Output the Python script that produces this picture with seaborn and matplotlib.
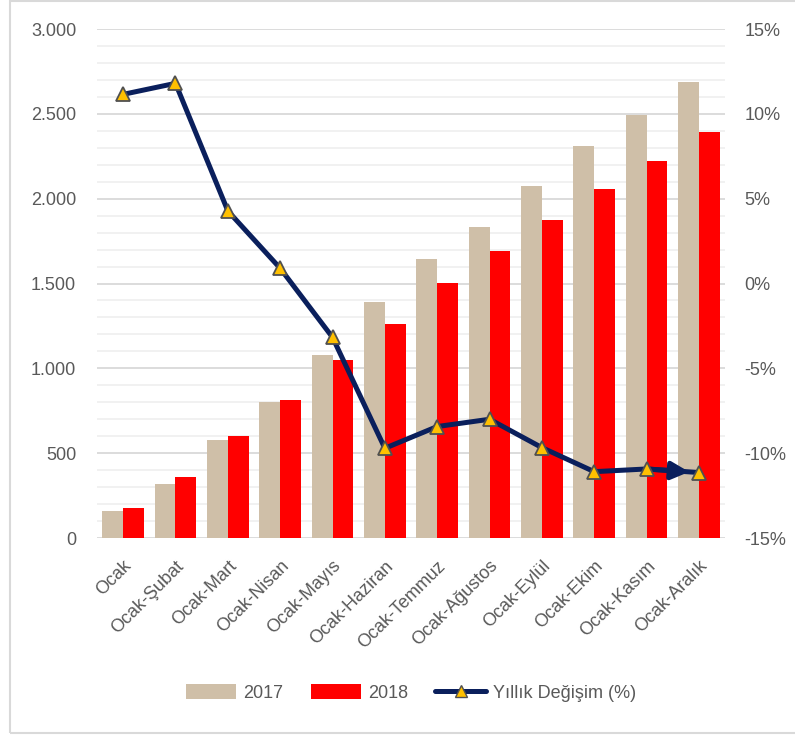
import matplotlib
matplotlib.use('Agg')
import matplotlib.pyplot as plt
from matplotlib.patches import Patch, Rectangle
from matplotlib.lines import Line2D
from matplotlib.ticker import MultipleLocator, FuncFormatter
import seaborn as sns
import pandas as pd
import numpy as np

### Data ###
months = ["Ocak", "Ocak-Şubat", "Ocak-Mart", "Ocak-Nisan", "Ocak-Mayıs", "Ocak-Haziran",
          "Ocak-Temmuz", "Ocak-Ağustos", "Ocak-Eylül", "Ocak-Ekim", "Ocak-Kasım", "Ocak-Aralık"]
values_2017 = [159, 320, 577, 803, 1078, 1391, 1642, 1833, 2074, 2312, 2495, 2689]
values_2018 = [177, 358, 601, 813, 1047, 1261, 1503, 1691, 1876, 2057, 2222, 2393]
yoy_change = [11.15, 11.8, 4.28, 0.9, -3.17, -9.71, -8.43, -8.0, -9.67, -11.09, -10.93, -11.14]

TAN = "#CFBFA8"
RED = "#FF0000"
NAVY = "#0A1F5C"
GOLD = "#FFC000"
TEXT = "#595959"

sns.set_style("white")
plt.rcParams['font.family'] = ['Liberation Sans', 'DejaVu Sans']


def build_chart(outfile):
    df = pd.DataFrame({
        "month": months * 2,
        "year": ["2017"] * len(months) + ["2018"] * len(months),
        "value": values_2017 + values_2018,
    })
    line_df = pd.DataFrame({"pos": np.arange(len(months)), "yoy": yoy_change})

    fig = plt.figure(figsize=(7.95, 7.35), dpi=100)
    ax = fig.add_axes([0.122, 0.268, 0.79, 0.6925])

    sns.barplot(data=df, x="month", y="value", hue="year", order=months,
                palette={"2017": TAN, "2018": RED}, width=0.8, saturation=1,
                edgecolor="none", ax=ax, legend=False)

    # Left axis formatting
    ax.set_ylim(0, 3000)
    ax.set_xlim(-0.5, len(months) - 0.5)
    ax.yaxis.set_major_locator(MultipleLocator(500))
    ax.yaxis.set_minor_locator(MultipleLocator(100))
    ax.yaxis.set_major_formatter(FuncFormatter(lambda v, p: f"{int(v):,}".replace(",", ".")))
    ax.grid(which="major", axis="y", color="#D9D9D9", lw=1.3)
    ax.grid(which="minor", axis="y", color="#F0F0F0", lw=1.3)
    ax.set_axisbelow(True)
    ax.set_xlabel("")
    ax.set_ylabel("")
    for s in ax.spines.values():
        s.set_visible(False)
    ax.tick_params(axis="y", which="both", length=0, labelsize=13, labelcolor=TEXT, pad=15)
    ax.tick_params(axis="x", length=0, labelsize=13, labelcolor=TEXT, pad=14)
    plt.setp(ax.get_xticklabels(), rotation=45, ha="right", rotation_mode="anchor")

    # Right axis: yearly change
    ax2 = ax.twinx()
    sns.lineplot(data=line_df, x="pos", y="yoy", color=NAVY, lw=3.6, marker="^",
                 markersize=10.5, markerfacecolor=GOLD, markeredgecolor="#505050",
                 markeredgewidth=1.3, ax=ax2, zorder=4)
    ax2.annotate("", xy=(line_df.pos.iloc[-1], yoy_change[-1]),
                 xytext=(line_df.pos.iloc[-2], yoy_change[-2]),
                 arrowprops=dict(arrowstyle="-|>", color=NAVY, lw=3.6,
                                 mutation_scale=26, shrinkA=0, shrinkB=7),
                 zorder=3)
    ax2.set_ylim(-15, 15)
    ax2.yaxis.set_major_locator(MultipleLocator(5))
    ax2.yaxis.set_major_formatter(FuncFormatter(lambda v, p: f"{int(round(v))}%"))
    ax2.set_xlabel("")
    ax2.set_ylabel("")
    ax2.grid(False)
    for s in ax2.spines.values():
        s.set_visible(False)
    ax2.tick_params(axis="y", length=0, labelsize=13, labelcolor=TEXT, pad=14)
    ax2.set_xlim(-0.5, len(months) - 0.5)

    # Legend
    handles = [
        Patch(facecolor=TAN, edgecolor="none", label="2017"),
        Patch(facecolor=RED, edgecolor="none", label="2018"),
        Line2D([0], [0], color=NAVY, lw=3.6, marker="^", markersize=8,
               markerfacecolor=GOLD, markeredgecolor="#505050", label="Yıllık Değişim (%)"),
    ]
    fig.legend(handles=handles, loc="center", bbox_to_anchor=(0.517, 0.057), ncol=3,
               frameon=False, fontsize=13, labelcolor=TEXT, handlelength=2.8,
               handleheight=0.9, handletextpad=0.4, columnspacing=1.5)

    # Outer chart border
    fig.patches.append(Rectangle((0.0126, 0.003), 0.99, 0.996, transform=fig.transFigure,
                                 fill=False, edgecolor="#D9D9D9", lw=1.5))

    plt.savefig(outfile, dpi=100)
    plt.close()


if __name__ == '__main__':
    build_chart("out.png")
